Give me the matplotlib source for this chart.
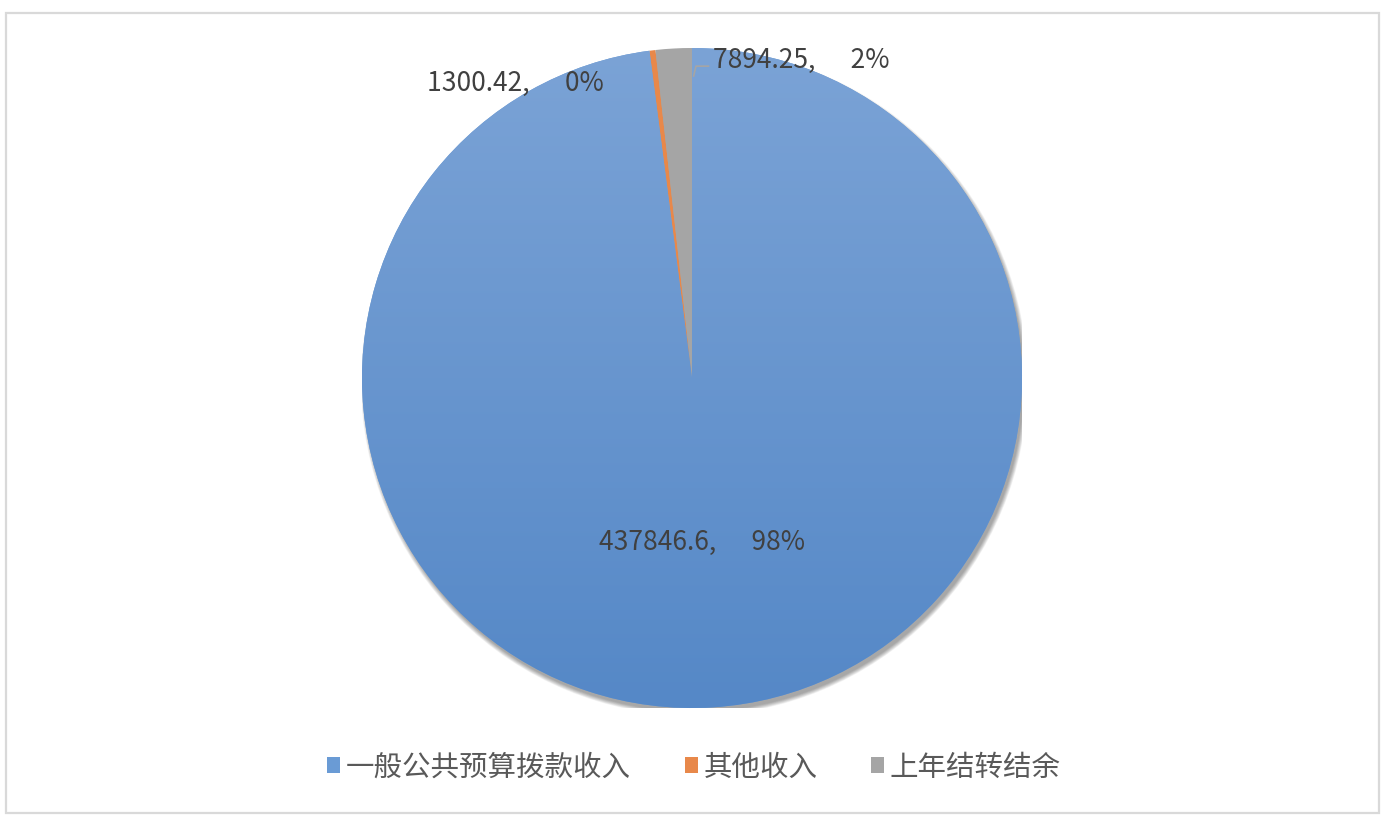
import numpy as np
import matplotlib
matplotlib.use("Agg")
import matplotlib.pyplot as plt
from matplotlib.patches import Patch, Rectangle, Circle
from matplotlib.colors import LinearSegmentedColormap

plt.rcParams['font.family'] = ['Noto Sans CJK SC', 'DejaVu Sans']

categories = ['一般公共预算拨款收入', '其他收入', '上年结转结余']
values = [437846.6, 1300.42, 7894.25]
value_labels = ['437846.6', '1300.42', '7894.25']
colors = ['#6a9bd5', '#e8884a', '#a5a5a5']

W, H = 1388, 828
fig = plt.figure(figsize=(W / 100, H / 100), dpi=100)

# outer frame
fig.patches.append(Rectangle((6 / W, 1 - 814 / H), 1373 / W, 800 / H,
                             transform=fig.transFigure, fill=False,
                             edgecolor='#d9d9d9', linewidth=1.6))

cx, cy, r = 692, 379, 330
ax = fig.add_axes([(cx - r) / W, 1 - (cy + r) / H, 2 * r / W, 2 * r / H])
ax.set_xlim(-1, 1)
ax.set_ylim(-1, 1)
ax.set_aspect('equal')
ax.axis('off')

# soft shadow, mostly lower right
for i in range(10):
    ax.add_patch(Circle((0.007, -0.013), 0.998 + i * 0.0014, color='black',
                        alpha=0.04, linewidth=0, zorder=0))

wedges, _ = ax.pie(values, colors=colors, startangle=90, counterclock=False,
                   radius=1.0, wedgeprops=dict(linewidth=0))
ax.set_xlim(-1, 1)
ax.set_ylim(-1, 1)
for w in wedges:
    w.set_zorder(2)

# vertical gradient on the big slice
grad = LinearSegmentedColormap.from_list('g', ['#5588c7', '#7ba3d6'])
img = ax.imshow(np.linspace(0, 1, 256).reshape(-1, 1), cmap=grad, origin='lower',
                extent=[-1, 1, -1, 1], aspect='auto', zorder=2.5)
img.set_clip_path(wedges[0])

total = sum(values)
pcts = [v / total * 100 for v in values]
label_pos = [(0.03, -0.495), (-0.535, 0.895), (0.33, 0.965)]
for lab, p, (x, y) in zip(value_labels, pcts, label_pos):
    ax.text(x, y, f'{lab},      {p:.0f}%', ha='center', va='center',
            fontsize=19, color='#404040', zorder=5)

# leader line for the small gray slice
ax.plot([0.005, 0.012, 0.05], [0.915, 0.945, 0.945], color='#a5a5a5', lw=1.2, zorder=4)

handles = [Patch(facecolor=c, edgecolor='none') for c in colors]
fig.legend(handles, categories, loc='center', bbox_to_anchor=(0.5, 1 - 768 / H),
           ncol=3, frameon=False, fontsize=20.5, handlelength=0.45, handleheight=0.45,
           handletextpad=0.2, columnspacing=1.9, labelcolor='#595959')

fig.savefig('out.png', dpi=100)
